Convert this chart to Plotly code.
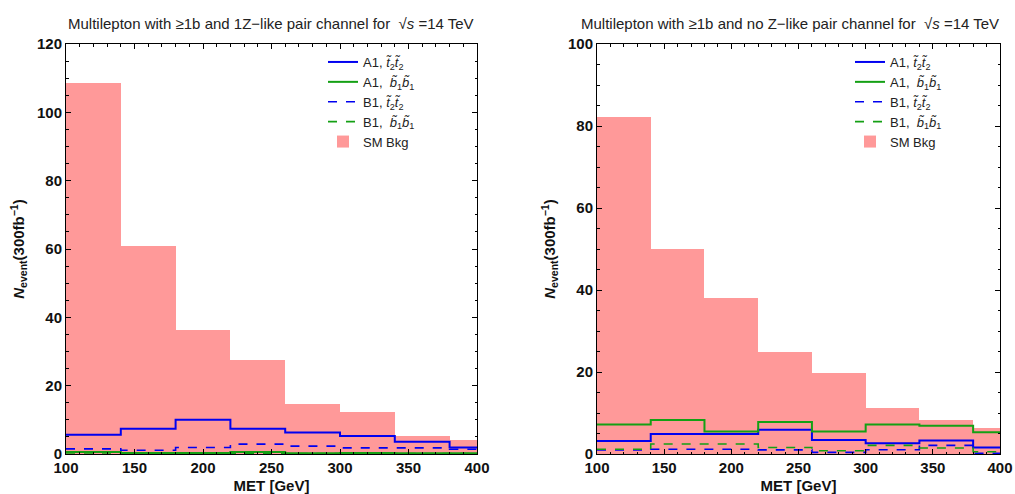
import plotly.graph_objects as go

# Bin edges (MET, GeV)
edges = [100, 140, 180, 220, 260, 300, 340, 380, 400]

# Left panel: >=1b and 1 Z-like pair
L_sm = [108.5, 61.0, 36.2, 27.4, 14.5, 12.3, 5.4, 4.1]
L_A1_t2t2 = [5.6, 7.4, 10.0, 7.4, 6.3, 5.3, 3.6, 1.9]
L_A1_b1b1 = [0.6, 0.3, 0.3, 0.6, 0.2, 0.3, 0.2, 0.2]
L_B1_t2t2 = [1.5, 1.1, 1.9, 2.9, 2.3, 1.8, 1.8, 1.4]
L_B1_b1b1 = [0.3, 0.1, 0.1, 0.2, 0.1, 0.1, 0.1, 0.1]

# Right panel: >=1b and no Z-like pair
R_sm = [82.2, 50.0, 38.0, 24.9, 19.8, 11.2, 8.3, 6.3]
R_A1_t2t2 = [3.2, 4.9, 4.9, 5.9, 3.4, 2.6, 3.3, 1.6]
R_A1_b1b1 = [7.2, 8.3, 5.5, 7.8, 5.5, 7.2, 6.9, 5.3]
R_B1_t2t2 = [1.0, 1.15, 1.15, 1.0, 0.4, 1.05, 2.1, 0.2]
R_B1_b1b1 = [1.15, 2.45, 2.45, 1.6, 0.8, 2.1, 1.45, 0.55]

x_ticks = [100, 150, 200, 250, 300, 350, 400]

names = ["A1, <i>t̃</i><sub>2</sub><i>t̃</i><sub>2</sub>",
         "A1,  <i>b̃</i><sub>1</sub><i>b̃</i><sub>1</sub>",
         "B1, <i>t̃</i><sub>2</sub><i>t̃</i><sub>2</sub>",
         "B1,  <i>b̃</i><sub>1</sub><i>b̃</i><sub>1</sub>",
         "SM Bkg"]

BLUE = "rgb(0,0,240)"
GREEN = "rgb(20,160,20)"
PINK = "rgb(255,153,153)"

W = 1015
H = 494

fig = go.Figure()

widths = [edges[i + 1] - edges[i] for i in range(len(edges) - 1)]
step_x = edges


def step_y(v):
    return list(v) + [v[-1]]


panels = [
    ("x", "y", "legend", L_sm, [L_A1_t2t2, L_A1_b1b1, L_B1_t2t2, L_B1_b1b1]),
    ("x2", "y2", "legend2", R_sm, [R_A1_t2t2, R_A1_b1b1, R_B1_t2t2, R_B1_b1b1]),
]
styles = [(BLUE, "solid", 2), (GREEN, "solid", 2), (BLUE, "dash", 1.6), (GREEN, "dash", 1.6)]

for xa, ya, lg, sm, series in panels:
    fig.add_trace(go.Bar(x=edges[:-1], y=sm, width=widths, offset=0,
                         marker=dict(color=PINK, line=dict(width=0)),
                         name=names[4], xaxis=xa, yaxis=ya, legend=lg,
                         legendrank=5))
    for k, (vals, (col, dash, lw)) in enumerate(zip(series, styles)):
        fig.add_trace(go.Scatter(x=step_x, y=step_y(vals), mode="lines",
                                 line=dict(color=col, dash=dash, width=lw, shape="hv"),
                                 name=names[k], xaxis=xa, yaxis=ya, legend=lg,
                                 legendrank=k + 1))

tickfont = dict(family="Liberation Sans", size=15, color="#111", weight="bold")
axcommon = dict(showline=True, linecolor="black", linewidth=1, mirror="ticks",
                ticks="inside", ticklen=5, tickcolor="black", showgrid=False,
                zeroline=False, tickfont=tickfont, automargin=False)

xd1 = [66 / W, 477 / W]
xd2 = [597 / W, 1000 / W]
yd = [1 - 454 / H, 1 - 44 / H]

ytitle = dict(text="<i>N</i><sub>event</sub>(300fb<sup>−1</sup>)",
              font=dict(family="Liberation Sans", size=15, color="#111", weight="bold"),
              standoff=8)
xtitle = dict(text="MET [GeV]",
              font=dict(family="Liberation Sans", size=15, color="#111", weight="bold"),
              standoff=14)

legfont = dict(family="Liberation Sans", size=13, color="#222")
titlefont = dict(family="Liberation Sans", size=15, color="#222")

fig.update_layout(
    width=W, height=H,
    margin=dict(l=0, r=0, t=0, b=0, autoexpand=False),
    paper_bgcolor="white", plot_bgcolor="white",
    barmode="overlay", bargap=0,
    xaxis=dict(domain=xd1, range=[100, 400], tickvals=x_ticks, anchor="y",
               minor=dict(dtick=10, ticks="inside", ticklen=2.5, tickcolor="black"),
               title=xtitle, **axcommon),
    yaxis=dict(domain=yd, range=[0, 120], dtick=20, anchor="x",
               minor=dict(dtick=5, ticks="inside", ticklen=2.5, tickcolor="black"),
               title=ytitle, **axcommon),
    xaxis2=dict(domain=xd2, range=[100, 400], tickvals=x_ticks, anchor="y2",
                minor=dict(dtick=10, ticks="inside", ticklen=2.5, tickcolor="black"),
                title=xtitle, **axcommon),
    yaxis2=dict(domain=yd, range=[0, 100], dtick=20, anchor="x2",
                minor=dict(dtick=5, ticks="inside", ticklen=2.5, tickcolor="black"),
                title=ytitle, **axcommon),
    legend=dict(x=323 / W, y=1 - 47 / H, xanchor="left", yanchor="top",
                bgcolor="rgba(0,0,0,0)", traceorder="normal",
                font=legfont, tracegroupgap=0, itemwidth=30),
    legend2=dict(x=850 / W, y=1 - 47 / H, xanchor="left", yanchor="top",
                 bgcolor="rgba(0,0,0,0)", traceorder="normal",
                 font=legfont, tracegroupgap=0, itemwidth=30),
    annotations=[
        dict(text="Multilepton with ≥1b and 1Z−like pair channel for  √<i>s</i> =14 TeV",
             x=271 / W, y=1 - 23 / H, xref="paper", yref="paper", showarrow=False,
             xanchor="center", yanchor="middle", font=titlefont),
        dict(text="Multilepton with ≥1b and no Z−like pair channel for  √<i>s</i> =14 TeV",
             x=790 / W, y=1 - 23 / H, xref="paper", yref="paper", showarrow=False,
             xanchor="center", yanchor="middle", font=titlefont),
    ],
)

fig.write_html("out.html")
